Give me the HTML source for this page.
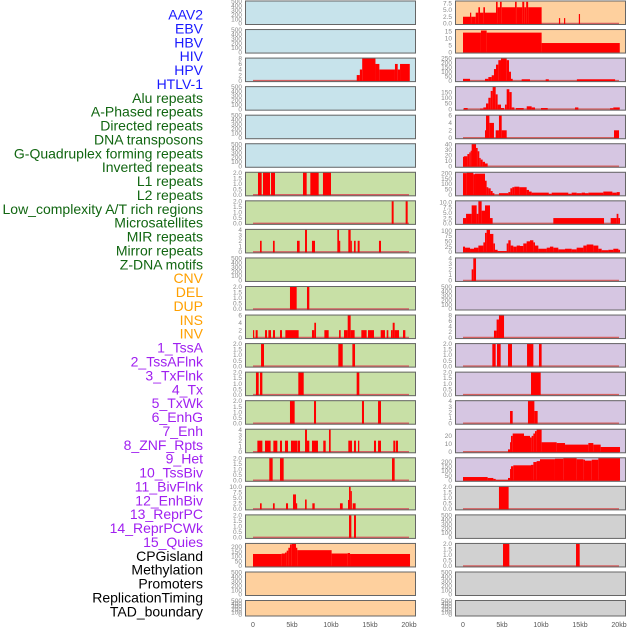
<!DOCTYPE html>
<html><head><meta charset="utf-8">
<style>
html,body{margin:0;padding:0;background:#fff;}
svg{display:block;}
text{font-family:"Liberation Sans",sans-serif;}
</style></head>
<body>
<svg id="chart" width="630" height="630" viewBox="0 0 630 630" xmlns="http://www.w3.org/2000/svg"></svg>
<script>
// ---- data (x in kb, [start, end, value]) ----
const trackNames = ["AAV2","EBV","HBV","HIV","HPV","HTLV-1","Alu repeats","A-Phased repeats","Directed repeats","DNA transposons","G-Quadruplex forming repeats","Inverted repeats","L1 repeats","L2 repeats","Low_complexity A/T rich regions","Microsatellites","MIR repeats","Mirror repeats","Z-DNA motifs","CNV","DEL","DUP","INS","INV","1_TssA","2_TssAFlnk","3_TxFlnk","4_Tx","5_TxWk","6_EnhG","7_Enh","8_ZNF_Rpts","9_Het","10_TssBiv","11_BivFlnk","12_EnhBiv","13_ReprPC","14_ReprPCWk","15_Quies","CPGisland","Methylation","Promoters","ReplicationTiming","TAD_boundary"];
const trackGroups = ["virus","virus","virus","virus","virus","virus","repeat","repeat","repeat","repeat","repeat","repeat","repeat","repeat","repeat","repeat","repeat","repeat","repeat","sv","sv","sv","sv","sv","chrom","chrom","chrom","chrom","chrom","chrom","chrom","chrom","chrom","chrom","chrom","chrom","chrom","chrom","chrom","other","other","other","other","other"];
const xTickValues = [0,5,10,15,20];
const xTickLabels = ["0","5kb","10kb","15kb","20kb"];
const emptyTicks = [0,100,200,300,400,500];

const segHBV = [[13.3,13.7,2],[13.7,14.0,4],[14.0,15.7,8],[15.7,16.2,6],[16.2,18.2,4],[18.2,18.55,6],[18.55,18.85,4],[18.85,20.1,6]];
const segAlu = [[0.64,1.11,2],[1.28,2.18,2],[2.31,2.82,2],[6.41,6.88,2],[7.35,8.42,2],[8.97,10.0,2]];
const segAPhased = [[17.78,18.03,2],[19.57,19.83,2]];
const segDirected = [[0.9,1.11,2],[2.56,2.78,2],[5.64,5.98,2],[6.67,6.92,4],[7.56,7.95,2],[10.81,11.03,4],[11.03,11.15,2],[12.22,12.52,4],[12.52,12.65,2],[12.95,13.16,2],[13.42,13.67,2],[16.15,16.41,2]];
const segGQuad = [[4.74,5.6,2],[6.92,7.22,2]];
const segInverted = [[0,0.13,2],[0.34,0.6,2],[1.54,1.8,2],[1.97,2.31,2],[2.56,2.82,2],[3.46,3.72,2],[4.15,5.85,2],[7.56,7.86,2],[7.86,8.08,4],[9.15,9.7,2],[11.03,11.24,2],[11.67,12.14,2],[12.14,12.52,6],[12.52,13.03,2],[13.89,14.57,2],[14.74,15.51,2],[16.37,16.92,2],[17.14,17.35,2],[17.69,17.91,2],[17.91,18.16,4],[18.16,18.72,2],[19.23,19.53,2]];
const segL1 = [[1.03,1.41,2],[10.94,11.5,2],[12.74,13.08,2]];
const segL2 = [[0.38,0.73,2],[0.9,1.2,2],[5.81,6.5,2],[13.29,13.63,2]];
const segLowComplex = [[4.74,5.34,2],[7.82,8.08,2],[13.97,14.23,2],[16.03,16.41,2]];
const segMicro = [[0.56,1.2,2],[1.54,2.26,2],[2.61,3.12,2],[3.46,3.72,2],[4.1,4.49,2],[4.87,5.68,2],[5.73,6.03,2],[6.67,6.92,4],[6.92,7.22,2],[7.56,8.33,2],[9.01,9.32,2],[9.74,9.96,4],[12.22,12.69,2],[12.95,13.2,2],[13.46,13.63,2],[15.51,15.77,2],[16.03,16.41,2],[17.99,18.25,2],[18.33,18.59,2]];
const segMIR = [[2.09,2.52,2],[3.46,3.93,2],[17.82,18.16,2]];
const segMirror = [[0.9,1.11,2.5],[2.56,2.78,2.5],[4.23,4.49,2.5],[5.13,5.51,6.5],[5.51,5.64,2.5],[6.67,6.88,4.2],[7.61,7.91,2.5],[11.15,11.5,2.5],[12.18,12.31,4],[12.31,12.52,10],[12.52,12.65,8],[12.78,13.16,2.5]];
const segZDNA = [[12.31,12.61,2],[12.95,13.2,2]];
const segCNV = [[0,3.68,125],[3.68,4.1,130],[4.1,4.32,140],[4.32,4.53,160],[4.53,4.74,190],[4.74,4.96,225],[4.96,5.51,230],[5.51,5.68,190],[5.68,10.08,165],[10.08,12.14,130],[12.14,12.44,135],[12.44,20.13,125]];
const segINS = [[0,0.9,2.5],[0.9,1.05,4],[1.05,1.63,2.5],[1.63,1.97,4],[1.97,2.18,6],[2.18,2.61,4],[2.61,2.82,6],[2.82,4.23,4],[4.23,4.44,8],[4.44,4.74,6],[4.74,4.96,8],[4.96,6.67,6],[6.67,6.88,8],[6.88,7.6,6],[7.6,7.85,8],[7.85,8.1,6],[8.1,8.35,8],[8.35,10.08,6],[12.3,12.45,2],[12.95,13.1,2],[14.85,15.0,3.5]];
const segINV = [[0,2.3,14],[2.3,3.03,15.5],[3.03,10.08,14],[10.08,20.1,6.5]];
const segTssA = [[0,0.9,20],[2.82,3.25,20],[3.25,3.68,40],[3.68,3.97,60],[3.97,4.23,130],[4.23,4.53,180],[4.53,4.87,230],[4.87,5.6,250],[5.6,5.9,230],[5.9,6.15,100],[6.15,6.37,20],[7.52,8.59,15],[10.6,11.0,15],[14.6,19.5,15]];
const segTssAFlnk = [[0.13,0.6,10],[2.18,2.61,5],[2.61,2.95,15],[2.95,3.25,50],[3.25,3.55,100],[3.55,3.8,160],[3.8,4.19,195],[4.19,4.44,130],[4.44,4.87,40],[4.87,5.26,10],[5.38,5.6,40],[5.6,5.94,175],[5.94,6.24,150],[6.24,6.58,15],[6.79,7.78,10],[8.17,8.8,25],[8.8,9.23,15],[10.0,10.86,10],[14.36,14.79,15],[18.85,19.27,8],[19.27,20.1,15]];
const segTxFlnk = [[2.82,2.95,2],[2.95,3.38,6],[3.38,3.97,4],[4.19,4.61,2],[4.61,4.96,6],[4.96,5.6,2],[19.36,20.0,2]];
const segTx = [[0,0.13,17],[0.13,0.56,18],[0.56,0.81,22],[0.81,0.98,25],[0.98,1.11,28],[1.11,1.67,40],[1.67,1.88,33],[1.88,2.09,27],[2.09,2.26,15],[2.26,2.52,12],[2.52,2.82,8],[2.82,3.16,5]];
const segTxWk = [[0,0.47,200],[0.47,1.33,205],[1.33,1.54,190],[1.54,2.82,195],[2.82,3.03,130],[3.03,3.25,70],[3.25,3.55,60],[3.55,3.8,35],[3.8,4.02,15],[4.61,5.81,15],[5.81,6.07,25],[6.07,6.32,60],[6.32,6.58,70],[6.58,7.22,75],[7.22,8.16,70],[8.16,8.46,45],[8.46,8.8,30],[8.8,11.0,20],[11.0,11.37,10],[11.37,13.5,20],[13.5,13.93,10],[13.93,14.57,20],[14.57,15.21,15],[15.21,15.64,20],[15.64,16.07,15],[16.07,17.99,20],[17.99,19.15,30],[19.15,19.7,20],[19.7,20.1,25]];
const segEnhG = [[0,0.39,2.5],[0.39,1.11,4.5],[1.11,1.75,8.5],[1.75,1.97,4.5],[1.97,2.39,10.5],[2.39,2.82,6],[2.82,3.46,8.5],[3.46,3.8,2.5],[11.58,18.08,2.5],[18.93,19.7,2.5],[19.7,19.92,4.5],[19.92,20.13,2.5]];
const segEnh = [[0,0.26,25],[0.26,0.9,20],[0.9,1.41,15],[1.41,1.97,20],[1.97,2.61,30],[2.61,2.82,45],[2.82,3.03,90],[3.03,3.46,105],[3.46,3.89,85],[3.89,4.1,40],[4.1,4.44,10],[4.44,5.6,4],[5.6,5.81,40],[5.81,6.11,55],[6.11,6.45,30],[6.45,6.88,25],[6.88,7.31,30],[7.31,7.73,28],[7.73,8.16,40],[8.16,8.59,50],[8.59,9.02,55],[9.02,9.23,45],[9.23,9.66,30],[9.66,10.73,15],[10.73,11.15,20],[11.15,11.58,25],[11.58,12.22,20],[12.22,13.08,12],[13.08,13.93,15],[13.93,14.57,12],[14.57,15.43,20],[15.43,15.85,30],[15.85,16.71,35],[16.71,17.35,30],[17.35,17.78,15],[17.78,18.63,8],[18.63,19.27,10],[19.27,19.92,15],[19.92,20.13,10]];
const segZNF = [[1.11,1.32,2],[1.32,1.67,4]];
const segTssBiv = [[3.97,4.31,2.5],[4.31,4.61,6.5],[4.61,5.26,8]];
const segBivFlnk = [[3.76,4.19,2],[4.36,4.83,2],[5.77,6.28,2],[8.21,9.02,2],[9.74,10.08,2]];
const segEnhBiv = [[8.72,9.96,2]];
const segReprPC = [[6.03,6.37,2.2],[8.33,9.15,4],[9.15,9.57,2.2]];
const segReprPCWk = [[5.77,6.03,3],[6.03,6.15,12],[6.15,6.37,20],[6.37,7.82,23],[7.82,8.59,20],[8.59,8.8,18],[8.8,9.02,20],[9.02,9.23,23],[9.23,9.44,26],[9.44,10.08,28],[10.08,12.01,12],[12.01,13.08,11],[13.08,16.07,9],[16.07,16.71,11],[16.71,17.65,9],[17.65,20.13,6]];
const segQuies = [[0,3.16,35],[3.16,3.89,25],[3.89,4.19,15],[4.19,5.77,3],[5.77,6.03,25],[6.03,6.15,120],[6.15,6.45,150],[6.45,8.72,160],[8.72,9.02,165],[9.02,9.44,195],[9.44,9.87,205],[9.87,11.79,225],[11.79,12.86,230],[12.86,14.57,237],[14.57,15.43,225],[15.43,15.64,220],[15.64,16.5,210],[16.5,17.35,220],[17.35,20.13,237]];
const segCPG = [[4.61,5.85,2]];
const segPromoters = [[5.13,5.94,2],[14.49,14.96,2]];

const trackSegs = [null,null,segHBV,null,null,null,segAlu,segAPhased,segDirected,null,segGQuad,segInverted,segL1,segL2,segLowComplex,segMicro,segMIR,segMirror,segZDNA,segCNV,null,null,segINS,segINV,segTssA,segTssAFlnk,segTxFlnk,segTx,segTxWk,segEnhG,segEnh,segZNF,null,segTssBiv,segBivFlnk,segEnhBiv,segReprPC,segReprPCWk,segQuies,segCPG,null,segPromoters,null,null];
const trackMax = [500,500,8,500,500,500,2,2,4,500,2,6,2,2,2,4,2,10,2,232,500,500,8.2,16,250,195,6,40,205,10.5,105,4,500,8,2,2,4,28,237,2,500,2,500,500];
const trackTicks = [emptyTicks,emptyTicks,[0,2,4,6,8],emptyTicks,emptyTicks,emptyTicks,
 [0,0.5,1,1.5,2],[0,0.5,1,1.5,2],[0,1,2,3,4],emptyTicks,[0,0.5,1,1.5,2],[0,2,4,6],[0,0.5,1,1.5,2],[0,0.5,1,1.5,2],[0,0.5,1,1.5,2],[0,1,2,3,4],[0,0.5,1,1.5,2],[0,2.5,5,7.5,10],[0,0.5,1,1.5,2],
 [0,50,100,150,200],emptyTicks,emptyTicks,[0,2.5,5,7.5],[0,5,10,15],
 [0,50,100,150,200,250],[0,50,100,150],[0,2,4,6],[0,10,20,30,40],[0,50,100,150,200],[0,2.5,5,7.5,10],[0,25,50,75,100],[0,1,2,3,4],emptyTicks,[0,2,4,6,8],[0,0.5,1,1.5,2],[0,0.5,1,1.5,2],[0,1,2,3,4],[0,10,20],[0,50,100,150,200],
 [0,0.5,1,1.5,2],emptyTicks,[0,0.5,1,1.5,2],emptyTicks,emptyTicks];
const tickDecimals = [0,0,0,0,0,0,1,1,0,0,1,0,1,1,1,0,1,1,1,0,0,0,1,0,0,0,0,0,0,1,0,0,0,0,1,1,0,0,0,1,0,1,0,0];

// ---- styles ----
const groupLabelColor = {virus:"#1a1aff",repeat:"#116611",sv:"#ffa000",chrom:"#a020f0",other:"#000000"};
const groupBg = {virus:"#c7e3eb",repeat:"#c8e0a6",sv:"#fed09e",chrom:"#d6c6e2",other:"#d1d1d1"};
const NS = "http://www.w3.org/2000/svg";
const svg = document.getElementById("chart");
function mk(tag, attrs, parent){const e=document.createElementNS(NS,tag);for(const k in attrs)e.setAttribute(k,attrs[k]);(parent||svg).appendChild(e);return e;}

// labels
trackNames.forEach((n,i)=>{
  const t = mk("text",{x:203,y:19.5+13.88*i,"text-anchor":"end","font-size":"14",fill:groupLabelColor[trackGroups[i]]});
  
  
  t.textContent = n;
});

const colX = [245,455];
const zeroX = [253,463];
const pxPerKb = 7.8;
function xScale(col,kb){return zeroX[col]+kb*pxPerKb;}
function rowTop(r){return r<21 ? 0.5+28.55*r : 600;}
function rowH(r){return r<21 ? 24.5 : 16.5;}

const defs = mk("defs",{});
trackNames.forEach((n,i)=>{
  const col = i<22?0:1, row = i%22;
  const top=rowTop(row), h=rowH(row), x0=colX[col], w=171;
  const g = mk("g",{});
  
  
  const cp = mk("clipPath",{id:"cp"+i},defs);
  mk("rect",{x:x0,y:top,width:w,height:h},cp);
  mk("rect",{x:x0,y:top,width:w,height:h,fill:groupBg[trackGroups[i]]},g);
  const yb = top+h-1.5, yt = top+0.8, mx = trackMax[i];
  const yScale = v => yb - v/mx*(yb-yt);
  const segs = trackSegs[i];
  if(segs){
    const bl = mk("line",{x1:xScale(col,0),x2:xScale(col,20),y1:yb,y2:yb,stroke:"#d46060","stroke-width":"1.5","clip-path":"url(#cp"+i+")"},g);
    
    
    segs.forEach(s=>{
      const xa=xScale(col,s[0]), xb=xScale(col,s[1]), yv=yScale(s[2]);
      const r = mk("rect",{x:xa,y:yv,width:Math.max(1.2,xb-xa),height:yb-yv+0.5,fill:"#ff0000","clip-path":"url(#cp"+i+")"},g);
      
      
    });
  }
  mk("rect",{x:x0+0.5,y:top+0.5,width:w-1,height:h-1,fill:"none",stroke:"#666","stroke-width":"1"},g);
  trackTicks[i].forEach(v=>{
    const t = mk("text",{x:x0-3,y:yScale(v)+2.2,"text-anchor":"end","font-size":"6.5",fill:"#8a8a8a"},g);
    
    
    t.textContent = v.toFixed(tickDecimals[i]);
  });
});

// x axis labels
[0,1].forEach(col=>{
  xTickValues.forEach((v,k)=>{
    const t = mk("text",{x:xScale(col,v),y:627,"text-anchor":"middle","font-size":"7",fill:"#555"});
    
    
    t.textContent = xTickLabels[k];
  });
});
</script>
</body></html>
